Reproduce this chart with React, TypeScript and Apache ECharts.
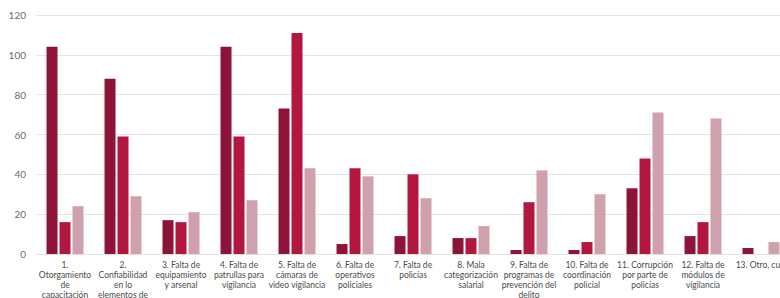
import React, { useEffect, useRef } from "react";
import * as echarts from "echarts";

const categories = [
  "1.\nOtorgamiento\nde\ncapacitación",
  "2.\nConfiabilidad\nen lo\nelementos de\nseguridad",
  "3. Falta de\nequipamiento\ny arsenal",
  "4. Falta de\npatrullas para\nvigilancia",
  "5. Falta de\ncámaras de\nvideo vigilancia",
  "6. Falta de\noperativos\npoliciales",
  "7. Falta de\npolicías",
  "8. Mala\ncategorización\nsalarial",
  "9. Falta de\nprogramas de\nprevención del\ndelito",
  "10. Falta de\ncoordinación\npolicial",
  "11. Corrupción\npor parte de\npolicías",
  "12. Falta de\nmódulos de\nvigilancia",
  "13. Otro, cuál",
];

const serie1 = [104, 88, 17, 104, 73, 5, 9, 8, 2, 2, 33, 9, 3];
const serie2 = [16, 59, 16, 59, 111, 43, 40, 8, 26, 6, 48, 16, 0];
const serie3 = [24, 29, 21, 27, 43, 39, 28, 14, 42, 30, 71, 68, 6];

const yTicks = [0, 20, 40, 60, 80, 100, 120];

export default function App() {
  const ref = useRef<HTMLDivElement>(null);
  useEffect(() => {
    if (!ref.current) return;
    const chart = echarts.init(ref.current, undefined, { renderer: "svg" });
    const font = "Lato, 'Open Sans', sans-serif";
    chart.setOption({
      animation: false,
      backgroundColor: "#ffffff",
      grid: { left: 36, right: 0, top: 15, bottom: 53.5, containLabel: false },
      xAxis: {
        type: "category",
        data: categories,
        axisLine: { show: true, lineStyle: { color: "#e2e2e2", width: 1 } },
        axisTick: { show: false },
        axisLabel: {
          interval: 0,
          fontSize: 8.5,
          lineHeight: 10,
          color: "#4a4a4a",
          fontFamily: font,
          margin: 6,
        },
      },
      yAxis: {
        type: "value",
        min: yTicks[0],
        max: yTicks[yTicks.length - 1],
        interval: 20,
        axisLine: { show: false },
        axisTick: { show: false },
        splitLine: { lineStyle: { color: "#e4e4e4", width: 1 } },
        axisLabel: {
          fontSize: 10,
          color: "#6a6a6a",
          fontFamily: font,
          margin: 10,
        },
      },
      series: [
        { name: "Serie 1", type: "bar", data: serie1, barWidth: 11, barGap: "18%", itemStyle: { color: "#8d1438" } },
        { name: "Serie 2", type: "bar", data: serie2, barWidth: 11, barGap: "18%", itemStyle: { color: "#b3173f" } },
        { name: "Serie 3", type: "bar", data: serie3, barWidth: 11, barGap: "18%", itemStyle: { color: "#cfa1ad" } },
      ],
    });
    return () => chart.dispose();
  }, []);
  return (
    <div
      ref={ref}
      style={{ position: "fixed", left: 0, top: 0, width: 790, height: 310 }}
    />
  );
}
